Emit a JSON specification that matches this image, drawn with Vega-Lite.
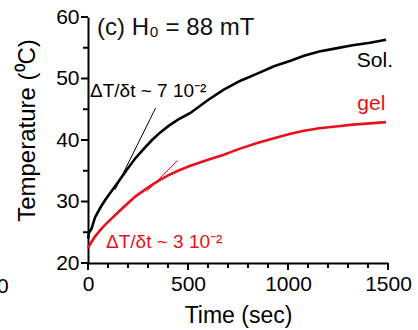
{
  "$schema": "https://vega.github.io/schema/vega-lite/v6.json",
  "width": 300,
  "height": 246,
  "autosize": "none",
  "padding": {"left": 88, "top": 17, "right": 30, "bottom": 67},
  "background": "white",
  "config": {"view": {"stroke": null}, "font": "Liberation Sans"},
  "datasets": {
    "curves": [
      {"t": 0, "T": 24.0, "s": "Sol."},
      {"t": 5, "T": 24.9, "s": "Sol."},
      {"t": 18, "T": 25.6, "s": "Sol."},
      {"t": 35, "T": 27.4, "s": "Sol."},
      {"t": 60, "T": 28.9, "s": "Sol."},
      {"t": 85, "T": 30.2, "s": "Sol."},
      {"t": 120, "T": 31.8, "s": "Sol."},
      {"t": 152, "T": 33.2, "s": "Sol."},
      {"t": 195, "T": 35.2, "s": "Sol."},
      {"t": 236, "T": 37.0, "s": "Sol."},
      {"t": 280, "T": 38.6, "s": "Sol."},
      {"t": 320, "T": 40.0, "s": "Sol."},
      {"t": 360, "T": 41.2, "s": "Sol."},
      {"t": 403, "T": 42.3, "s": "Sol."},
      {"t": 450, "T": 43.3, "s": "Sol."},
      {"t": 512, "T": 44.4, "s": "Sol."},
      {"t": 600, "T": 46.5, "s": "Sol."},
      {"t": 679, "T": 48.2, "s": "Sol."},
      {"t": 760, "T": 49.6, "s": "Sol."},
      {"t": 846, "T": 50.8, "s": "Sol."},
      {"t": 930, "T": 52.0, "s": "Sol."},
      {"t": 1013, "T": 52.9, "s": "Sol."},
      {"t": 1080, "T": 53.7, "s": "Sol."},
      {"t": 1156, "T": 54.4, "s": "Sol."},
      {"t": 1240, "T": 54.9, "s": "Sol."},
      {"t": 1323, "T": 55.4, "s": "Sol."},
      {"t": 1410, "T": 55.8, "s": "Sol."},
      {"t": 1490, "T": 56.3, "s": "Sol."},
      {"t": 0, "T": 22.4, "s": "gel"},
      {"t": 15, "T": 23.3, "s": "gel"},
      {"t": 35, "T": 24.3, "s": "gel"},
      {"t": 60, "T": 25.3, "s": "gel"},
      {"t": 85, "T": 26.2, "s": "gel"},
      {"t": 120, "T": 27.3, "s": "gel"},
      {"t": 152, "T": 28.3, "s": "gel"},
      {"t": 195, "T": 29.6, "s": "gel"},
      {"t": 236, "T": 30.8, "s": "gel"},
      {"t": 280, "T": 31.8, "s": "gel"},
      {"t": 320, "T": 32.7, "s": "gel"},
      {"t": 360, "T": 33.5, "s": "gel"},
      {"t": 403, "T": 34.3, "s": "gel"},
      {"t": 450, "T": 35.0, "s": "gel"},
      {"t": 512, "T": 35.8, "s": "gel"},
      {"t": 600, "T": 36.8, "s": "gel"},
      {"t": 679, "T": 37.6, "s": "gel"},
      {"t": 760, "T": 38.6, "s": "gel"},
      {"t": 846, "T": 39.5, "s": "gel"},
      {"t": 930, "T": 40.3, "s": "gel"},
      {"t": 1013, "T": 41.0, "s": "gel"},
      {"t": 1080, "T": 41.5, "s": "gel"},
      {"t": 1156, "T": 41.9, "s": "gel"},
      {"t": 1240, "T": 42.2, "s": "gel"},
      {"t": 1323, "T": 42.5, "s": "gel"},
      {"t": 1410, "T": 42.7, "s": "gel"},
      {"t": 1490, "T": 42.9, "s": "gel"}
    ],
    "tangents": [
      {"t1": 135, "T1": 31.9, "t2": 338, "T2": 45.2, "s": "Sol."},
      {"t1": 293, "T1": 31.6, "t2": 448, "T2": 36.7, "s": "gel"}
    ],
    "titlelab": [
      {"t": 45, "T": 57.1, "text": "(c) H₀ = 88 mT"}
    ],
    "rightlab": [
      {"t": 1525, "T": 51.9, "text": "Sol.", "s": "Sol."},
      {"t": 1487, "T": 44.9, "text": "gel", "s": "gel"},
      {"t": -396, "T": 15.1, "text": "0", "s": "edge"}
    ],
    "slopes": [
      {"t": 10, "T": 47.0, "text": "ΔT/δt ~ 7 10⁻²", "s": "Sol."},
      {"t": 90, "T": 22.4, "text": "ΔT/δt ~ 3 10⁻²", "s": "gel"}
    ],
    "xticks": [
      {"t": 0, "a": 20, "b": 18.85}, {"t": 100, "a": 20, "b": 19.2}, {"t": 200, "a": 20, "b": 19.2},
      {"t": 300, "a": 20, "b": 19.2}, {"t": 400, "a": 20, "b": 19.2}, {"t": 500, "a": 20, "b": 18.85},
      {"t": 600, "a": 20, "b": 19.2}, {"t": 700, "a": 20, "b": 19.2}, {"t": 800, "a": 20, "b": 19.2},
      {"t": 900, "a": 20, "b": 19.2}, {"t": 1000, "a": 20, "b": 18.85}, {"t": 1100, "a": 20, "b": 19.2},
      {"t": 1200, "a": 20, "b": 19.2}, {"t": 1300, "a": 20, "b": 19.2}, {"t": 1400, "a": 20, "b": 19.2},
      {"t": 1500, "a": 20, "b": 18.85}
    ],
    "yticks": [
      {"T": 20, "a": 0, "b": -35}, {"T": 25, "a": 0, "b": -25}, {"T": 30, "a": 0, "b": -35},
      {"T": 35, "a": 0, "b": -25}, {"T": 40, "a": 0, "b": -35}, {"T": 45, "a": 0, "b": -25},
      {"T": 50, "a": 0, "b": -35}, {"T": 55, "a": 0, "b": -25}, {"T": 60, "a": 0, "b": -35}
    ]
  },
  "encoding": {
    "x": {
      "field": "t", "type": "quantitative",
      "scale": {"domain": [0, 1500], "nice": false, "zero": false},
      "axis": {
        "title": "Time (sec)",
        "values": [0, 500, 1000, 1500],
        "format": "d",
        "grid": false,
        "ticks": false,
        "domain": true,
        "domainColor": "black",
        "domainWidth": 2,
        "labelFont": "Liberation Sans",
        "labelFontSize": 21,
        "labelColor": "black",
        "labelPadding": 10,
        "labelFlush": false,
        "labelOverlap": false,
        "labelBound": false,
        "titleFont": "Liberation Sans",
        "titleFontSize": 23,
        "titleFontWeight": "normal",
        "titleColor": "black",
        "titlePadding": 10
      }
    },
    "y": {
      "field": "T", "type": "quantitative",
      "scale": {"domain": [20, 60], "nice": false, "zero": false},
      "axis": {
        "title": "Temperature (⁰C)",
        "values": [20, 30, 40, 50, 60],
        "format": "d",
        "grid": false,
        "ticks": false,
        "domain": true,
        "domainColor": "black",
        "domainWidth": 2,
        "labelFont": "Liberation Sans",
        "labelFontSize": 21,
        "labelColor": "black",
        "labelPadding": 9,
        "labelFlush": false,
        "labelOverlap": false,
        "labelBound": false,
        "titleFont": "Liberation Sans",
        "titleFontSize": 24,
        "titleFontWeight": "normal",
        "titleColor": "black",
        "titlePadding": 16,
        "titleY": 113
      }
    }
  },
  "layer": [
    {
      "data": {"name": "xticks"},
      "mark": {"type": "rule", "strokeWidth": 2, "color": "black"},
      "encoding": {
        "y": {"field": "a", "type": "quantitative"},
        "y2": {"field": "b"}
      }
    },
    {
      "data": {"name": "yticks"},
      "mark": {"type": "rule", "strokeWidth": 2, "color": "black"},
      "encoding": {
        "x": {"field": "a", "type": "quantitative"},
        "x2": {"field": "b"}
      }
    },
    {
      "data": {"name": "curves"},
      "mark": {"type": "line", "strokeWidth": 2.6},
      "encoding": {
        "color": {
          "field": "s", "type": "nominal",
          "scale": {"domain": ["Sol.", "gel"], "range": ["#000000", "#e8101a"]},
          "legend": null
        }
      }
    },
    {
      "data": {"name": "tangents"},
      "mark": {"type": "rule", "strokeWidth": 1},
      "encoding": {
        "x": {"field": "t1", "type": "quantitative"},
        "y": {"field": "T1", "type": "quantitative"},
        "x2": {"field": "t2"},
        "y2": {"field": "T2"},
        "color": {
          "field": "s", "type": "nominal",
          "scale": {"domain": ["Sol.", "gel"], "range": ["#555555", "#e8303a"]},
          "legend": null
        }
      }
    },
    {
      "data": {"name": "slopes"},
      "mark": {"type": "text", "align": "left", "baseline": "alphabetic", "fontSize": 19, "font": "Liberation Sans"},
      "encoding": {
        "text": {"field": "text"},
        "color": {
          "field": "s", "type": "nominal",
          "scale": {"domain": ["Sol.", "gel"], "range": ["#3a3a3a", "#e0303c"]},
          "legend": null
        }
      }
    },
    {
      "data": {"name": "titlelab"},
      "mark": {"type": "text", "align": "left", "baseline": "alphabetic", "fontSize": 24, "font": "Liberation Sans", "color": "#111111"},
      "encoding": {
        "text": {"field": "text"}
      }
    },
    {
      "data": {"name": "rightlab"},
      "mark": {"type": "text", "align": "right", "baseline": "alphabetic", "fontSize": 21, "font": "Liberation Sans"},
      "encoding": {
        "text": {"field": "text"},
        "color": {
          "field": "s", "type": "nominal",
          "scale": {"domain": ["Sol.", "gel", "edge"], "range": ["#111111", "#e8101a", "#111111"]},
          "legend": null
        }
      }
    }
  ]
}
